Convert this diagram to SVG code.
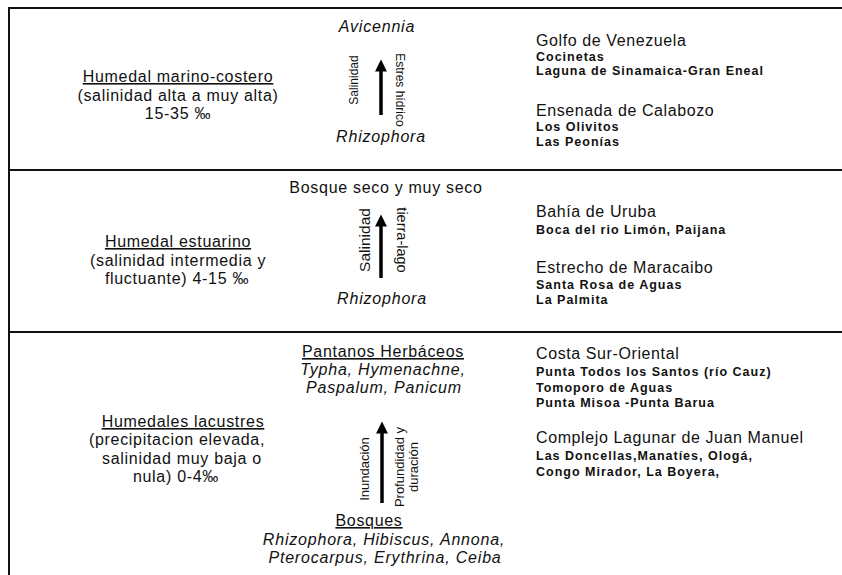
<svg xmlns="http://www.w3.org/2000/svg" width="842" height="575" viewBox="0 0 842 575">
<style>
text{font-family:"Liberation Sans",Arial,sans-serif;fill:#111}
.h{font-size:16px;letter-spacing:0.7px;text-anchor:middle}
.u{text-decoration:underline}
.i{font-style:italic;font-size:16px;letter-spacing:0.8px;text-anchor:middle}
.site{font-size:16px;letter-spacing:0.6px}
.loc{font-size:12.5px;font-weight:bold;letter-spacing:1px}
.r1{font-size:12px;text-anchor:middle}
.r2{font-size:15.5px;text-anchor:middle}
.r3{font-size:13px;text-anchor:middle}
.frame{stroke:#111;stroke-width:2;fill:none}
.arr{stroke:#000;stroke-width:3.5;fill:none}
</style>
<defs>
<marker id="ah" viewBox="0 0 10 10" refX="2" refY="5" markerWidth="3.6" markerHeight="3.4" orient="auto" markerUnits="strokeWidth">
<path d="M0,0 L10,5 L0,10 z" fill="#000"/>
</marker>
</defs>
<rect width="842" height="575" fill="#fff"/>
<g id="frame">
<path class="frame" d="M9,575 V8 H842"/>
<path class="frame" d="M9,170 H842 M9,332 H842"/>
</g>
<g id="connectors">
<line class="arr" x1="381" y1="115" x2="381" y2="69" marker-end="url(#ah)"/>
<line class="arr" x1="381" y1="278" x2="381" y2="224" marker-end="url(#ah)"/>
<line class="arr" x1="382" y1="503" x2="382" y2="431" marker-end="url(#ah)"/>
</g>
<g id="row1-left">
<text class="h u" x="178" y="82">Humedal marino-costero</text>
<text class="h" x="178" y="101">(salinidad alta a muy alta)</text>
<text class="h" x="178" y="119">15-35 ‰</text>
</g>
<g id="row1-center">
<text class="i" x="377" y="32">Avicennia</text>
<text class="i" x="381" y="142">Rhizophora</text>
<text class="r1" transform="translate(358,80) rotate(-90)">Salinidad</text>
<text class="r1" transform="translate(396,90) rotate(90)">Estres hídrico</text>
</g>
<g id="row1-right">
<text class="site" x="536" y="46">Golfo de Venezuela</text>
<text class="loc" x="536" y="61">Cocinetas</text>
<text class="loc" x="536" y="75">Laguna de Sinamaica-Gran Eneal</text>
<text class="site" x="536" y="116">Ensenada de Calabozo</text>
<text class="loc" x="536" y="131">Los Olivitos</text>
<text class="loc" x="536" y="146">Las Peonías</text>
</g>
<g id="row2-left">
<text class="h u" x="178" y="247">Humedal estuarino</text>
<text class="h" x="178" y="266">(salinidad intermedia y</text>
<text class="h" x="177" y="284">fluctuante) 4-15 ‰</text>
</g>
<g id="row2-center">
<text class="h" x="386" y="193">Bosque seco y muy seco</text>
<text class="i" x="382" y="304">Rhizophora</text>
<text class="r2" transform="translate(370,240) rotate(-90)">Salinidad</text>
<text class="r2" transform="translate(397,240) rotate(90)" style="font-size:14.5px">tierra-lago</text>
</g>
<g id="row2-right">
<text class="site" x="536" y="217">Bahía de Uruba</text>
<text class="loc" x="536" y="234">Boca del rio Limón, Paijana</text>
<text class="site" x="536" y="273">Estrecho de Maracaibo</text>
<text class="loc" x="536" y="289">Santa Rosa de Aguas</text>
<text class="loc" x="536" y="304">La Palmita</text>
</g>
<g id="row3-left">
<text class="h u" x="183" y="427">Humedales lacustres</text>
<text class="h" x="177" y="445">(precipitacion elevada,</text>
<text class="h" x="182" y="464">salinidad muy baja o</text>
<text class="h" x="176" y="482">nula) 0-4‰</text>
</g>
<g id="row3-center">
<text class="h u" x="383" y="357">Pantanos Herbáceos</text>
<text class="i" x="383" y="375">Typha, Hymenachne,</text>
<text class="i" x="384" y="393">Paspalum, Panicum</text>
<text class="h u" x="369" y="526">Bosques</text>
<text class="i" x="384" y="545">Rhizophora, Hibiscus, Annona,</text>
<text class="i" x="385" y="563">Pterocarpus, Erythrina, Ceiba</text>
<text class="r3" transform="translate(369,469) rotate(-90)">Inundación</text>
<text class="r3" transform="translate(404,467) rotate(-90)">Profundidad y</text>
<text class="r3" transform="translate(418,467) rotate(-90)">duración</text>
</g>
<g id="row3-right">
<text class="site" x="536" y="359">Costa Sur-Oriental</text>
<text class="loc" x="536" y="376">Punta Todos los Santos (río Cauz)</text>
<text class="loc" x="536" y="392">Tomoporo de Aguas</text>
<text class="loc" x="536" y="407">Punta Misoa -Punta Barua</text>
<text class="site" x="536" y="443">Complejo Lagunar de Juan Manuel</text>
<text class="loc" x="536" y="460">Las Doncellas,Manatíes, Ologá,</text>
<text class="loc" x="536" y="476">Congo Mirador, La Boyera,</text>
</g>
</svg>
